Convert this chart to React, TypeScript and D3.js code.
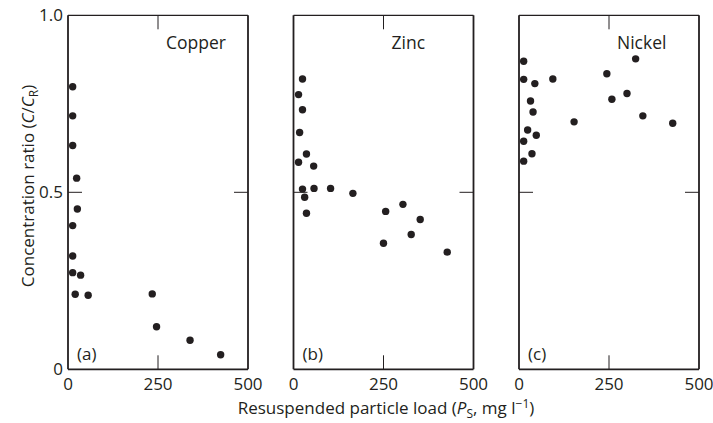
import React from "react";
import * as d3 from "d3";

const panelNames = ["Copper", "Zinc", "Nickel"];
const panelLetters = ["(a)", "(b)", "(c)"];

const copperX = [13, 13, 13, 24, 26, 13, 13, 13, 35, 20, 56, 234, 246, 339, 424];
const copperY = [0.798, 0.716, 0.632, 0.54, 0.453, 0.406, 0.32, 0.273, 0.266, 0.212, 0.209, 0.213, 0.12, 0.082, 0.041];

const zincX = [25, 14, 25, 17, 36, 14, 56, 25, 57, 103, 165, 31, 36, 256, 304, 352, 327, 250, 427];
const zincY = [0.82, 0.776, 0.733, 0.669, 0.608, 0.585, 0.574, 0.509, 0.511, 0.511, 0.497, 0.486, 0.441, 0.446, 0.466, 0.423, 0.381, 0.356, 0.331];

const nickelX = [13, 324, 244, 13, 44, 94, 32, 258, 300, 39, 344, 153, 427, 24, 48, 13, 36, 13];
const nickelY = [0.87, 0.877, 0.835, 0.819, 0.807, 0.82, 0.758, 0.763, 0.779, 0.727, 0.716, 0.699, 0.695, 0.676, 0.661, 0.644, 0.609, 0.588];

const xTicks = [0, 250, 500];
const yTicks = [0, 0.5, 1.0];
const yTickLabels = ["0", "0.5", "1.0"];

const seriesX = [copperX, zincX, nickelX];
const seriesY = [copperY, zincY, nickelY];

const W = 713;
const H = 423;
const panelLefts = [68, 293.5, 519];
const panelW = 180;
const top = 15.3;
const bottom = 369.3;
const ink = "#231f20";
const font = "'Open Sans', sans-serif";

export default function App() {
  const y = d3.scaleLinear().domain([0, 1]).range([bottom, top]);
  const tickLen = 14;
  return (
    <svg width={W} height={H} style={{ position: "absolute", left: 0, top: 0 }} fontFamily={font}>
      <rect x={0} y={0} width={W} height={H} fill="#fff" />
      {panelLefts.map((left, i) => {
        const x = d3.scaleLinear().domain([0, 500]).range([left, left + panelW]);
        const px = seriesX[i];
        const py = seriesY[i];
        return (
          <g key={i}>
            <line x1={x(250)} x2={x(250)} y1={y(0)} y2={y(0) - tickLen} stroke={ink} strokeWidth={1} />
            <line x1={x(250)} x2={x(250)} y1={y(1)} y2={y(1) + tickLen} stroke={ink} strokeWidth={1} />
            <line x1={x(0)} x2={x(0) + tickLen} y1={y(0.5)} y2={y(0.5)} stroke={ink} strokeWidth={1} />
            <line x1={x(500)} x2={x(500) - tickLen} y1={y(0.5)} y2={y(0.5)} stroke={ink} strokeWidth={1} />
            <line x1={x(0)} x2={x(500)} y1={y(1)} y2={y(1)} stroke={ink} strokeWidth={1.2} />
            <line x1={x(0)} x2={x(500)} y1={y(0)} y2={y(0)} stroke={ink} strokeWidth={1.8} />
            <line x1={x(0)} x2={x(0)} y1={y(1)} y2={y(0)} stroke={ink} strokeWidth={1.8} />
            <line x1={x(500)} x2={x(500)} y1={y(1)} y2={y(0)} stroke={ink} strokeWidth={1.8} />
            {xTicks.map((t) => (
              <text key={t} x={x(t)} y={390} textAnchor="middle" fontSize={17} fill={ink}>
                {t}
              </text>
            ))}
            {px.map((v, j) => (
              <circle key={j} cx={x(v)} cy={y(py[j])} r={3.7} fill={ink} />
            ))}
            <text x={left + 98} y={49.3} fontSize={17.5} fill={ink}>
              {panelNames[i]}
            </text>
            <text x={left + 9} y={360} fontSize={17} fill={ink}>
              {panelLetters[i]}
            </text>
          </g>
        );
      })}
      {yTicks.map((t, i) => (
        <text key={t} x={63} y={y(t) + 6} textAnchor="end" fontSize={17} fill={ink}>
          {yTickLabels[i]}
        </text>
      ))}
      <text transform={`translate(34,186) rotate(-90)`} textAnchor="middle" fontSize={17} fill={ink}>
        Concentration ratio (<tspan fontStyle="italic">C</tspan>/<tspan fontStyle="italic">C</tspan>
        <tspan fontSize={12} dy={4}>R</tspan>
        <tspan dy={-4}>)</tspan>
      </text>
      <text x={386} y={414} textAnchor="middle" fontSize={17} fill={ink}>
        Resuspended particle load (<tspan fontStyle="italic">P</tspan>
        <tspan fontSize={12} dy={4}>S</tspan>
        <tspan dy={-4}>, mg l</tspan>
        <tspan fontSize={12} dy={-6}>−1</tspan>
        <tspan dy={6}>)</tspan>
      </text>
    </svg>
  );
}
